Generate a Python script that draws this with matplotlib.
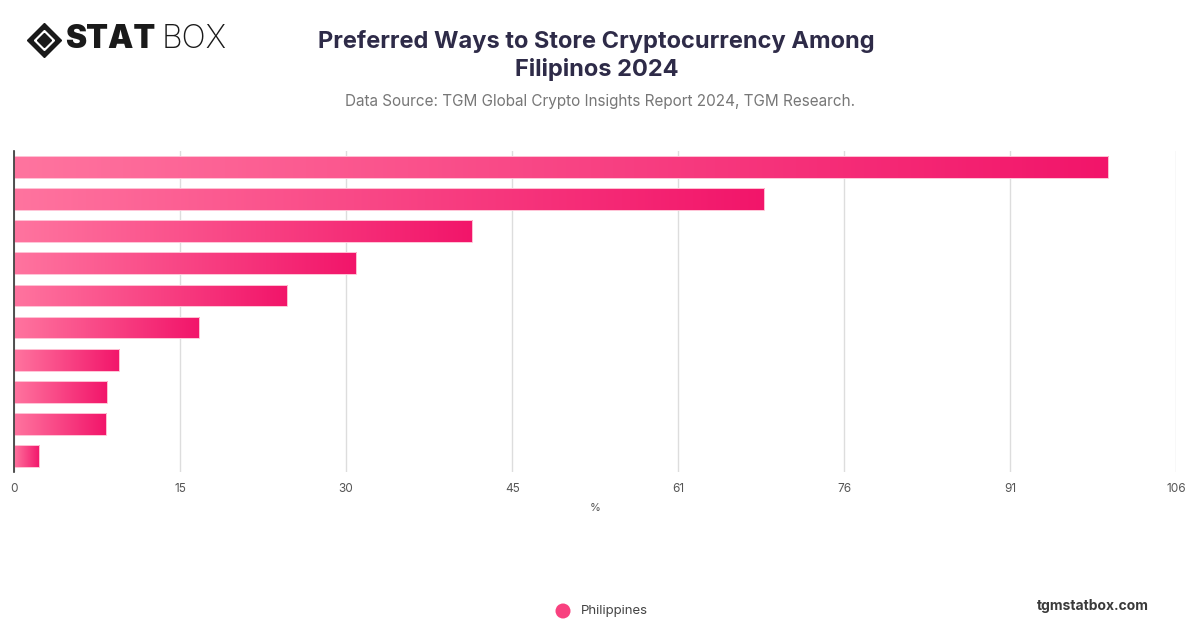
import numpy as np
import matplotlib.pyplot as plt
from matplotlib.colors import LinearSegmentedColormap
from matplotlib.patches import Rectangle, Ellipse
from matplotlib.lines import Line2D

plt.rcParams['font.family'] = ['Inter', 'DejaVu Sans']

# data (top to bottom)
values = [99.8, 68.4, 41.8, 31.2, 24.9, 16.9, 9.6, 8.5, 8.4, 2.3]
series_name = 'Philippines'
x_max = 106
tick_vals = [i * x_max / 7 for i in range(8)]
tick_labels = ['0', '15', '30', '45', '61', '76', '91', '106']

cmap = LinearSegmentedColormap.from_list('pinks', ['#ff749f', '#f2156a'])
grad = np.linspace(0, 1, 256).reshape(1, -1)

W, H = 1200, 628
fig = plt.figure(figsize=(W / 100, H / 100), dpi=100)
ax = fig.add_axes([0.0117, 0.2484, 0.9686, 0.5112])

h = 0.68
for i, v in enumerate(values):
    # gradient fill, clipped to the bar rectangle, slightly oversized to avoid gaps
    im = ax.imshow(grad, cmap=cmap, aspect='auto',
                   extent=[0, v, i + h / 2 + 0.05, i - h / 2 - 0.05],
                   interpolation='bilinear', zorder=3)
    clip = Rectangle((0, i - h / 2), v, h, transform=ax.transData)
    im.set_clip_path(clip)
    ax.add_patch(Rectangle((0, i - h / 2), v, h, fill=False, edgecolor='#ffc4d6',
                           linewidth=0.7, zorder=4))

ax.set_xlim(0, x_max)
ax.set_ylim(len(values) - 0.5, -0.5)
ax.set_xticks(tick_vals)
ax.set_xticklabels(tick_labels, fontsize=8.5, color='#555555')
ax.set_yticks([])
ax.tick_params(axis='x', length=0, pad=8)
ax.grid(axis='x', color='#dddddd', linewidth=1, zorder=0)
for s in ['top', 'right', 'bottom']:
    ax.spines[s].set_visible(False)
ax.spines['left'].set_color('#333333')
ax.spines['left'].set_linewidth(1.2)
ax.spines['left'].set_zorder(5)
ax.set_xlabel('%', fontsize=8, color='#555555', labelpad=6)

# titles
fig.text(0.497, 0.912, 'Preferred Ways to Store Cryptocurrency Among\nFilipinos 2024',
         ha='center', va='center', fontsize=17, fontweight='bold', color='#2e2b48',
         linespacing=1.28)
fig.text(0.5, 0.839, 'Data Source: TGM Global Crypto Insights Report 2024, TGM Research.',
         ha='center', va='center', fontsize=11, color='#777777')

# logo
cx, cy = 43.5 / W, 1 - 40 / H
fig.add_artist(Line2D([cx], [cy], marker='D', markersize=17.5, color='#1a1a1a',
                      transform=fig.transFigure))
fig.add_artist(Line2D([cx], [cy], marker='D', markersize=10, color='white',
                      transform=fig.transFigure))
fig.add_artist(Line2D([cx], [cy], marker='D', markersize=7, color='#1a1a1a',
                      transform=fig.transFigure))
fig.text(0.054, cy, 'STAT', ha='left', va='center', fontsize=23, fontweight='black',
         color='#1a1a1a')
fig.text(0.1345, cy, 'BOX', ha='left', va='center', fontsize=23, fontweight='light',
         color='#1a1a1a')

# legend
fig.text(0.484, 1 - 611 / H, series_name, ha='left', va='center', fontsize=9.5,
         color='#444444')
fig.add_artist(Ellipse((563 / W, 1 - 611 / H), 15 / W, 15 / H, transform=fig.transFigure,
                       facecolor='#f8417f', edgecolor='none'))
fig.text(0.957, 1 - 606 / H, 'tgmstatbox.com', ha='right', va='center', fontsize=10,
         fontweight='bold', color='#3a3a3a')

fig.savefig('out.png', dpi=100)
